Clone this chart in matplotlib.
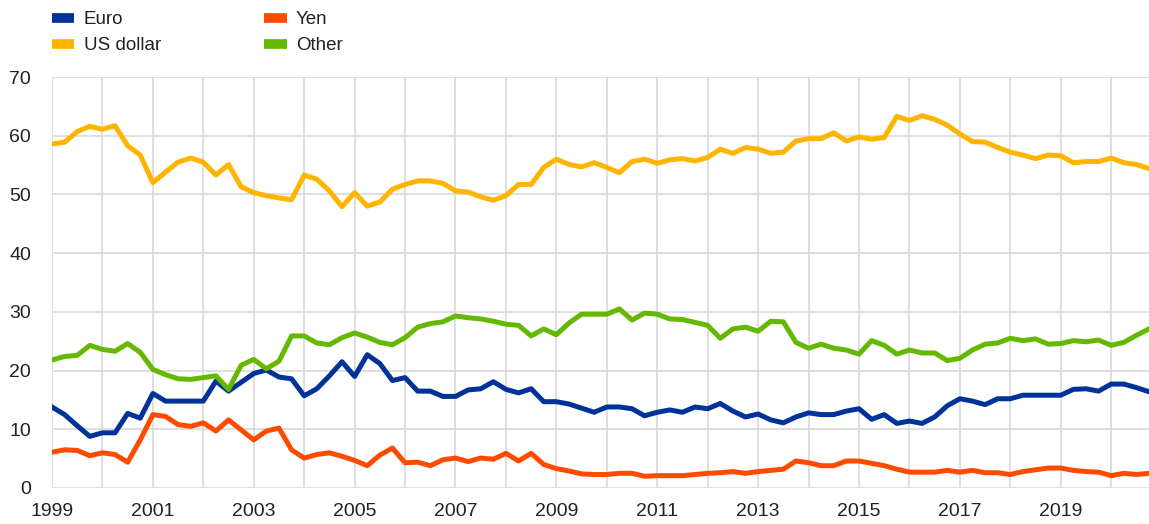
import numpy as np
import matplotlib.pyplot as plt
from matplotlib.ticker import FixedLocator

# quarterly shares (%), 1999Q1 .. 2020Q4
start_year = 1999
us_dollar = [
    58.6, 58.9, 60.7, 61.6, 61.1, 61.7, 58.3, 56.7, 52.0, 53.8, 55.5, 56.2,
    55.5, 53.3, 55.1, 51.3, 50.3, 49.8, 49.4, 49.1, 53.3, 52.6, 50.6, 47.9,
    50.3, 48.0, 48.7, 50.9, 51.7, 52.3, 52.3, 51.9, 50.6, 50.4, 49.6, 49.0,
    49.8, 51.7, 51.7, 54.6, 56.0, 55.1, 54.7, 55.4, 54.6, 53.7, 55.6, 56.0,
    55.3, 55.9, 56.1, 55.7, 56.3, 57.7, 57.0, 58.0, 57.7, 57.0, 57.2, 59.1,
    59.5, 59.5, 60.5, 59.1, 59.8, 59.4, 59.7, 63.3, 62.6, 63.4, 62.8, 61.8,
    60.3, 59.0, 58.9, 58.0, 57.2, 56.7, 56.1, 56.7, 56.6, 55.4, 55.6, 55.6,
    56.2, 55.4, 55.1, 54.4,
]
euro = [
    13.8, 12.5, 10.6, 8.8, 9.4, 9.4, 12.7, 11.9, 16.1, 14.8, 14.8, 14.8,
    14.8, 18.2, 16.5, 18.0, 19.5, 20.1, 18.9, 18.6, 15.7, 16.9, 19.1, 21.5,
    19.0, 22.7, 21.2, 18.3, 18.8, 16.5, 16.5, 15.6, 15.6, 16.7, 16.9, 18.1,
    16.8, 16.2, 16.9, 14.7, 14.7, 14.3, 13.6, 12.9, 13.8, 13.8, 13.5, 12.3,
    12.9, 13.3, 12.9, 13.8, 13.5, 14.4, 13.1, 12.1, 12.6, 11.6, 11.1, 12.1,
    12.8, 12.5, 12.5, 13.1, 13.5, 11.7, 12.5, 11.0, 11.4, 11.0, 12.1, 14.0,
    15.2, 14.8, 14.2, 15.2, 15.2, 15.8, 15.8, 15.8, 15.8, 16.8, 16.9, 16.5,
    17.7, 17.7, 17.1, 16.4,
]
yen = [
    6.1, 6.5, 6.4, 5.5, 6.0, 5.7, 4.4, 8.2, 12.5, 12.2, 10.8, 10.5,
    11.1, 9.7, 11.6, 9.9, 8.2, 9.7, 10.2, 6.5, 5.1, 5.7, 6.0, 5.4,
    4.7, 3.8, 5.6, 6.8, 4.3, 4.4, 3.8, 4.8, 5.1, 4.5, 5.1, 4.9,
    5.9, 4.6, 5.9, 4.0, 3.3, 2.9, 2.4, 2.3, 2.3, 2.5, 2.5, 2.0,
    2.1, 2.1, 2.1, 2.3, 2.5, 2.6, 2.8, 2.5, 2.8, 3.0, 3.2, 4.6,
    4.3, 3.8, 3.8, 4.6, 4.6, 4.2, 3.8, 3.2, 2.7, 2.7, 2.7, 3.0,
    2.7, 3.0, 2.6, 2.6, 2.3, 2.8, 3.1, 3.4, 3.4, 3.0, 2.8, 2.7,
    2.1, 2.5, 2.3, 2.5,
]
other = [
    21.8, 22.4, 22.6, 24.3, 23.6, 23.3, 24.6, 23.1, 20.2, 19.3, 18.6, 18.5,
    18.8, 19.1, 16.8, 20.9, 21.9, 20.3, 21.6, 25.9, 25.9, 24.7, 24.4, 25.6,
    26.4, 25.7, 24.8, 24.4, 25.6, 27.4, 28.0, 28.3, 29.3, 29.0, 28.8, 28.4,
    27.9, 27.7, 25.9, 27.1, 26.1, 28.1, 29.6, 29.6, 29.6, 30.5, 28.6, 29.8,
    29.6, 28.8, 28.7, 28.2, 27.7, 25.5, 27.1, 27.4, 26.7, 28.4, 28.3, 24.8,
    23.8, 24.5, 23.8, 23.5, 22.8, 25.1, 24.3, 22.8, 23.5, 23.0, 23.0, 21.7,
    22.1, 23.5, 24.5, 24.7, 25.5, 25.1, 25.4, 24.5, 24.6, 25.1, 24.9, 25.2,
    24.3, 24.8, 26.0, 27.1,
]

series = [
    ("Euro", euro, "#003299"),
    ("US dollar", us_dollar, "#FFB400"),
    ("Yen", yen, "#FF4B00"),
    ("Other", other, "#65B800"),
]

x = start_year + np.arange(len(euro)) / 4

plt.rcParams["font.family"] = ["Liberation Sans", "DejaVu Sans"]

fig = plt.figure(figsize=(11.49, 5.24), dpi=100)
ax = fig.add_axes([52 / 1149, 1 - 488 / 524, 1 - 52 / 1149, (488 - 77) / 524])

for name, vals, color in series:
    ax.plot(x, vals, color=color, lw=3.6, label=name, solid_joinstyle="round")

ax.set_xlim(1999, 2020.75)
ax.set_ylim(0, 70)
ax.xaxis.set_major_locator(FixedLocator(range(1999, 2021)))
ax.set_xticklabels([str(y) if (y - 1999) % 2 == 0 else "" for y in range(1999, 2021)])
ax.set_yticks(range(0, 71, 10))
ax.grid(True, color="#d9d9d9", lw=1.2)
ax.set_axisbelow(True)
for s in ax.spines.values():
    s.set_visible(False)
ax.tick_params(length=0, labelsize=14, colors="#222222", pad=11)
ax.tick_params(axis="y", pad=15)

leg = fig.legend(
    loc="upper left", bbox_to_anchor=(35 / 1149, 1.012), ncol=2, frameon=False,
    fontsize=13.5, handlelength=1.2, handleheight=0.5, columnspacing=5.5,
    labelspacing=0.5, handletextpad=0.5,
)
for h in leg.get_lines():
    h.set_linewidth(7)
    h.set_solid_capstyle("butt")
for t in leg.get_texts():
    t.set_color("#222222")

fig.savefig("out.png", dpi=100)
